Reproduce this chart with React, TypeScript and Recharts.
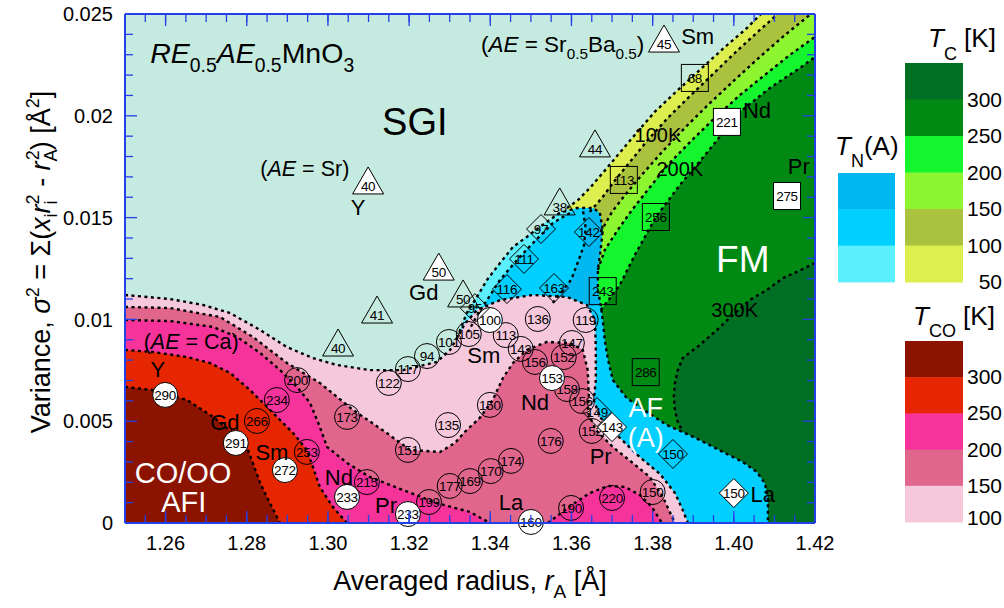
import React from "react";
import { ScatterChart, Scatter, XAxis, YAxis } from "recharts";

type XY = [number, number];
type Part = { t: string; i?: boolean; sub?: boolean };
type Lab = { x: number; y: number; parts: Part[]; size: number; color?: string; anchor?: "start" | "middle" | "end" };
type Mark = { x: number; y: number; v: string };

const FONT = '"Liberation Sans", Arial, Helvetica, sans-serif';
const AXIS_BLUE = "#2441e8";
const SGI = "#c5eadf";

// colour scales (top of bar first)
const tcColors = ["#006e23", "#008a14", "#14f52e", "#8ef531", "#abc23f", "#dcef4e"];
const tcLabels = ["300", "250", "200", "150", "100", "50"];
const tnColors = ["#00b8ef", "#00cfff", "#5cf0fc"];
const tcoColors = ["#8b1300", "#e62600", "#f5339a", "#e0668d", "#f5c8dc"];
const tcoLabels = ["300", "250", "200", "150", "100"];

// ticks
const xMajor = [1.26, 1.28, 1.3, 1.32, 1.34, 1.36, 1.38, 1.4, 1.42];
const xMinor = [1.255, 1.26, 1.265, 1.27, 1.275, 1.28, 1.285, 1.29, 1.295, 1.3, 1.305, 1.31, 1.315, 1.32, 1.325, 1.33, 1.335, 1.34, 1.345, 1.35, 1.355, 1.36, 1.365, 1.37, 1.375, 1.38, 1.385, 1.39, 1.395, 1.4, 1.405, 1.41, 1.415];
const yMajor = [0, 0.005, 0.01, 0.015, 0.02, 0.025];
const yMinor = [0.001, 0.002, 0.003, 0.004, 0.006, 0.007, 0.008, 0.009, 0.011, 0.012, 0.013, 0.014, 0.016, 0.017, 0.018, 0.019, 0.021, 0.022, 0.023, 0.024];

// contour lines (r_A, sigma^2)
const plotBox: XY[] = [[1.25, 0], [1.25, 0.025], [1.42, 0.025], [1.42, 0]];
const g1: XY[] = [[1.3589, 0.01547], [1.3616, 0.01586], [1.3645, 0.01645], [1.3677, 0.01719], [1.3714, 0.01807], [1.3756, 0.01906], [1.3805, 0.02019], [1.3857, 0.02117], [1.3916, 0.02225], [1.3978, 0.02338], [1.4027, 0.02421], [1.4067, 0.025]];
const g2: XY[] = [[1.3645, 0.01528], [1.3675, 0.01596], [1.3704, 0.01675], [1.3744, 0.01773], [1.3788, 0.01881], [1.3837, 0.01989], [1.3892, 0.02097], [1.3946, 0.022], [1.4002, 0.02308], [1.4059, 0.02412], [1.4108, 0.025]];
const g3: XY[] = [[1.3672, 0.01429], [1.37, 0.01528], [1.3732, 0.01611], [1.3773, 0.01709], [1.3823, 0.01822], [1.3879, 0.0194], [1.3936, 0.02053], [1.4002, 0.02176], [1.4064, 0.02289], [1.4126, 0.02397], [1.419, 0.025]];
const g4: XY[] = [[1.3665, 0.01243], [1.3682, 0.01341], [1.3714, 0.01439], [1.3749, 0.01537], [1.3788, 0.01636], [1.3837, 0.01758], [1.3892, 0.01871], [1.3953, 0.01989], [1.4015, 0.02102], [1.4076, 0.022], [1.4138, 0.02299], [1.42, 0.02387]];
const g5: XY[] = [[1.3672, 0.01046], [1.3695, 0.01105], [1.3719, 0.01169], [1.3756, 0.01316], [1.3808, 0.01503], [1.3867, 0.0166], [1.3929, 0.01807], [1.4015, 0.02019], [1.4089, 0.02137], [1.4163, 0.02235], [1.42, 0.02289]];
const g6: XY[] = [[1.42, 0.01277], [1.4155, 0.01233], [1.4121, 0.01203], [1.4081, 0.01144], [1.4039, 0.01095], [1.3998, 0.01022], [1.3958, 0.00948], [1.3916, 0.00874], [1.3874, 0.0081], [1.3862, 0.00751], [1.3855, 0.00688], [1.3852, 0.00619], [1.3855, 0.00555], [1.386, 0.00506], [1.3874, 0.00447]];

const blueLeft: XY[] = [[1.3318, 0.00909], [1.3342, 0.01031], [1.3367, 0.0111], [1.3392, 0.01194], [1.3424, 0.01277], [1.3456, 0.01356], [1.349, 0.01405], [1.3522, 0.01454], [1.3571, 0.01523], [1.3613, 0.01547], [1.3653, 0.01547], [1.367, 0.01523]];
const blueRight: XY[] = [[1.367, 0.01523], [1.3677, 0.01439], [1.3672, 0.01341], [1.3665, 0.01243], [1.3665, 0.01144], [1.3672, 0.01071], [1.3677, 0.00997], [1.3682, 0.00899], [1.369, 0.00801], [1.3702, 0.00702], [1.3736, 0.00614], [1.3786, 0.00545], [1.3835, 0.00481], [1.3874, 0.00447], [1.3916, 0.00408], [1.3973, 0.00349], [1.4022, 0.003], [1.4057, 0.0025], [1.4076, 0.00196], [1.4084, 0.00128], [1.4084, 0.00064], [1.4084, 0]];
const cyanInner: XY[] = [[1.3596, 0.01523], [1.3554, 0.01473], [1.3505, 0.01375], [1.3466, 0.01292], [1.3424, 0.01194], [1.3392, 0.01095], [1.3367, 0.01017], [1.3345, 0.00938]];
const darkBlueEdge: XY[] = [[1.3554, 0.01081], [1.3579, 0.01144], [1.3599, 0.01194], [1.3616, 0.01282], [1.3631, 0.01365], [1.3635, 0.01449], [1.3628, 0.01537]];

const lineA: XY[] = [[1.25, 0.0112], [1.2611, 0.011], [1.2692, 0.01071], [1.2759, 0.01031], [1.2833, 0.00948], [1.2899, 0.00864], [1.2963, 0.0081], [1.3022, 0.00776], [1.3103, 0.00751], [1.3185, 0.00751], [1.3268, 0.00791], [1.3301, 0.0085], [1.3318, 0.00909], [1.3337, 0.00977], [1.3367, 0.01046], [1.3424, 0.01095], [1.3505, 0.0112], [1.3589, 0.0111], [1.3638, 0.01071], [1.3658, 0.00997], [1.366, 0.0085], [1.366, 0.00702], [1.3655, 0.00604], [1.367, 0.00521], [1.3712, 0.00432], [1.3768, 0.00324], [1.3818, 0.00241], [1.3855, 0.00147], [1.3874, 0.00064], [1.3887, 0]];
const lineB: XY[] = [[1.25, 0.01061], [1.2611, 0.01056], [1.2734, 0.01012], [1.2815, 0.00914], [1.2899, 0.00786], [1.298, 0.00688], [1.3062, 0.00555], [1.3145, 0.00442], [1.3202, 0.00359], [1.3276, 0.00349], [1.3313, 0.00393], [1.3337, 0.00447], [1.3374, 0.00516], [1.3406, 0.00604], [1.3431, 0.00712], [1.3456, 0.00786], [1.349, 0.0085], [1.3539, 0.00889], [1.3596, 0.00884], [1.3628, 0.0085], [1.364, 0.00751], [1.3643, 0.00619], [1.364, 0.00545], [1.366, 0.00457], [1.3702, 0.00373], [1.3751, 0.00295], [1.3793, 0.00226], [1.3825, 0.00128], [1.3855, 0]];
const lineC: XY[] = [[1.25, 0.00997], [1.2611, 0.00992], [1.2717, 0.00963], [1.2776, 0.00914], [1.2833, 0.00835], [1.2882, 0.00751], [1.2924, 0.00668], [1.2956, 0.00589], [1.298, 0.00472], [1.2998, 0.00373], [1.3047, 0.00295], [1.3103, 0.00226], [1.3185, 0.00162], [1.3268, 0.00098], [1.335, 0.00054], [1.3399, 0]];
const bump: XY[] = [[1.3542, 0], [1.3571, 0.00044], [1.3608, 0.00098], [1.3645, 0.00147], [1.369, 0.00182], [1.3732, 0.00177], [1.3768, 0.00138], [1.3798, 0.00079], [1.3823, 0]];
const lineD: XY[] = [[1.25, 0.0085], [1.2569, 0.0084], [1.2653, 0.00815], [1.2709, 0.00786], [1.2759, 0.00737], [1.2808, 0.00653], [1.285, 0.0057], [1.2882, 0.00506], [1.2914, 0.00442], [1.2948, 0.00359], [1.2963, 0.00275], [1.298, 0.00177], [1.3012, 0.00079], [1.3047, 0]];
const lineE: XY[] = [[1.25, 0.00668], [1.2569, 0.00653], [1.2653, 0.00604], [1.2717, 0.00521], [1.2766, 0.00442], [1.28, 0.00373], [1.2815, 0.00295], [1.2833, 0.00196], [1.2857, 0.00098], [1.2882, 0]];

// samples
const circlesOpen: Mark[] = [
  { x: 1.2924, y: 0.00702, v: "200" }, { x: 1.2874, y: 0.00604, v: "234" }, { x: 1.2825, y: 0.00501, v: "266" },
  { x: 1.2948, y: 0.00349, v: "253" }, { x: 1.3047, y: 0.00521, v: "173" }, { x: 1.3096, y: 0.00201, v: "215" },
  { x: 1.3249, y: 0.00103, v: "199" }, { x: 1.33, y: 0.00182, v: "177" }, { x: 1.335, y: 0.00206, v: "169" },
  { x: 1.3401, y: 0.00255, v: "170" }, { x: 1.3451, y: 0.00305, v: "174" }, { x: 1.3549, y: 0.00403, v: "176" },
  { x: 1.3399, y: 0.0058, v: "150" }, { x: 1.3197, y: 0.00359, v: "151" }, { x: 1.3296, y: 0.00481, v: "135" },
  { x: 1.315, y: 0.00688, v: "122" }, { x: 1.3197, y: 0.00756, v: "117" }, { x: 1.3244, y: 0.0082, v: "94" },
  { x: 1.3298, y: 0.00889, v: "101" }, { x: 1.3347, y: 0.00928, v: "105" }, { x: 1.3438, y: 0.00923, v: "113" },
  { x: 1.3517, y: 0.01002, v: "136" }, { x: 1.3635, y: 0.00997, v: "119" }, { x: 1.3475, y: 0.00855, v: "143" },
  { x: 1.3601, y: 0.00884, v: "147" }, { x: 1.3581, y: 0.00815, v: "152" }, { x: 1.351, y: 0.00791, v: "156" },
  { x: 1.3589, y: 0.00658, v: "158" }, { x: 1.3626, y: 0.00599, v: "156" }, { x: 1.365, y: 0.00452, v: "152" },
  { x: 1.3599, y: 0.00074, v: "190" }, { x: 1.37, y: 0.00123, v: "220" }, { x: 1.38, y: 0.00152, v: "150" },
];
const circlesWhite: Mark[] = [
  { x: 1.2599, y: 0.00629, v: "290" }, { x: 1.2773, y: 0.00393, v: "291" }, { x: 1.2894, y: 0.0026, v: "272" },
  { x: 1.3047, y: 0.00128, v: "233" }, { x: 1.3197, y: 0.00044, v: "233" }, { x: 1.3399, y: 0.00997, v: "100" },
  { x: 1.3552, y: 0.00712, v: "153" }, { x: 1.35, y: 0.00005, v: "160" },
];
const trianglesWhite: Mark[] = [
  { x: 1.3099, y: 0.0168, v: "40" }, { x: 1.3828, y: 0.02377, v: "45" }, { x: 1.3273, y: 0.01257, v: "50" },
];
const trianglesOpen: Mark[] = [
  { x: 1.3658, y: 0.01862, v: "44" }, { x: 1.3571, y: 0.01577, v: "38" }, { x: 1.3333, y: 0.01125, v: "50" },
  { x: 1.3121, y: 0.01046, v: "41" }, { x: 1.3025, y: 0.00884, v: "40" },
];
const squaresWhite: Mark[] = [{ x: 1.3983, y: 0.0197, v: "221" }, { x: 1.4131, y: 0.01606, v: "275" }];
const squaresOpen: Mark[] = [
  { x: 1.3904, y: 0.02186, v: "68" }, { x: 1.3729, y: 0.01685, v: "113" }, { x: 1.3808, y: 0.01503, v: "256" },
  { x: 1.3677, y: 0.01139, v: "243" }, { x: 1.3783, y: 0.00741, v: "286" },
];
const diamondsOpen: Mark[] = [
  { x: 1.3525, y: 0.01444, v: "97" }, { x: 1.3643, y: 0.01429, v: "142" }, { x: 1.3483, y: 0.01297, v: "111" },
  { x: 1.3441, y: 0.01149, v: "116" }, { x: 1.3557, y: 0.01154, v: "163" }, { x: 1.3362, y: 0.01055, v: "95" },
  { x: 1.3663, y: 0.00545, v: "149" }, { x: 1.385, y: 0.00339, v: "150" },
];
const diamondsWhite: Mark[] = [{ x: 1.37, y: 0.00471, v: "143" }, { x: 1.4, y: 0.00147, v: "150" }];

const t = (x: number, y: number, s: string, size = 22, color?: string): Lab => ({ x, y, parts: [{ t: s }], size, color });
const labels: Lab[] = [
  { x: 1.2562, y: 0.02259, size: 28.5, anchor: "start", parts: [{ t: "RE", i: true }, { t: "0.5", sub: true }, { t: "AE", i: true }, { t: "0.5", sub: true }, { t: "MnO" }, { t: "3", sub: true }] },
  t(1.3214, 0.01906, "SGI", 38),
  { x: 1.2943, y: 0.01704, size: 21.5, parts: [{ t: "(" }, { t: "AE", i: true }, { t: " = Sr)" }] },
  t(1.3074, 0.01513, "Y"),
  { x: 1.3377, y: 0.02313, size: 22.5, anchor: "start", parts: [{ t: "(" }, { t: "AE", i: true }, { t: " = Sr" }, { t: "0.5", sub: true }, { t: "Ba" }, { t: "0.5", sub: true }, { t: ")" }] },
  t(1.3911, 0.02353, "Sm"),
  t(1.3813, 0.01871, "100K", 20),
  t(1.3867, 0.01704, "200K", 20),
  t(1.4057, 0.01989, "Nd"),
  t(1.416, 0.01714, "Pr"),
  t(1.4022, 0.01233, "FM", 37, "#fff"),
  t(1.4002, 0.01012, "300K", 20),
  t(1.3236, 0.01095, "Gd"),
  { x: 1.2663, y: 0.00855, size: 21.5, parts: [{ t: "(" }, { t: "AE", i: true }, { t: " = Ca)" }] },
  t(1.2581, 0.00717, "Y"),
  t(1.2746, 0.00457, "Gd"),
  t(1.2862, 0.00309, "Sm"),
  t(1.2643, 0.00196, "CO/OO", 29, "#fff"),
  t(1.2645, 0.00054, "AFI", 29, "#fff"),
  t(1.3027, 0.00187, "Nd"),
  t(1.3143, 0.00049, "Pr"),
  t(1.3384, 0.00786, "Sm"),
  t(1.351, 0.00555, "Nd"),
  t(1.3672, 0.0029, "Pr"),
  t(1.3451, 0.00064, "La"),
  t(1.4071, 0.00103, "La"),
  t(1.3783, 0.00521, "AF", 27, "#fff"),
  t(1.3783, 0.00373, "(A)", 27, "#fff"),
];

const greenTail: XY[] = [[1.42, 0], [1.37, 0], [1.36, 0.008], [1.362, 0.0125]];
const fills: { pts: XY[]; color: string }[] = [
  { pts: plotBox, color: SGI },
  { pts: [...g1, [1.42, 0.025], ...greenTail], color: tcColors[5] },
  { pts: [...g2, [1.42, 0.025], ...greenTail], color: tcColors[4] },
  { pts: [...g3, [1.42, 0.025], ...greenTail], color: tcColors[3] },
  { pts: [...g4, ...greenTail], color: tcColors[2] },
  { pts: [...g5, ...greenTail], color: tcColors[1] },
  { pts: [...g6, [1.395, 0], [1.42, 0]], color: tcColors[0] },
  { pts: [...blueLeft, ...blueRight.slice(1), [1.386, 0], [1.36, 0.005], [1.345, 0.008]], color: tnColors[1] },
  { pts: [...blueLeft.slice(0, 10), ...cyanInner], color: tnColors[2] },
  { pts: [...darkBlueEdge, ...blueRight.slice(0, 6), [1.363, 0.0106]], color: tnColors[0] },
  { pts: [...lineA, [1.25, 0]], color: tcoColors[4] },
  { pts: [...lineB, [1.25, 0]], color: tcoColors[3] },
  { pts: [...lineC, [1.25, 0]], color: tcoColors[2] },
  { pts: bump, color: tcoColors[2] },
  { pts: [...lineD, [1.25, 0]], color: tcoColors[1] },
  { pts: [...lineE, [1.25, 0]], color: tcoColors[0] },
];
const dashed: XY[][] = [g1, g2, g3, g4, g5, g6, blueLeft, blueRight, cyanInner, darkBlueEdge, lineA, lineB, lineC, bump, lineD, lineE];

const toPts = (a: XY[]) => a.map(([x, y]) => ({ x, y }));
const NoDot = () => <g />;
const NoTick = () => <g />;

const markerShape = (kind: string, fill: string) => (p: any) => {
  const { cx, cy } = p;
  const v = p.payload?.v;
  const common = { fill, stroke: "#000", strokeWidth: 1 };
  let el: React.ReactNode = null;
  let ty = cy + 5;
  if (kind === "circle") el = <circle cx={cx} cy={cy} r={12.5} {...common} />;
  if (kind === "square") el = <rect x={cx - 13.5} y={cy - 13.5} width={27} height={27} {...common} />;
  if (kind === "diamond")
    el = <polygon points={`${cx},${cy - 14.5} ${cx + 14.5},${cy} ${cx},${cy + 14.5} ${cx - 14.5},${cy}`} {...common} />;
  if (kind === "triangle") {
    el = <polygon points={`${cx},${cy - 14} ${cx + 15.5},${cy + 13} ${cx - 15.5},${cy + 13}`} {...common} />;
    ty = cy + 10;
  }
  return (
    <g>
      {el}
      <text x={cx} y={ty} textAnchor="middle" fontSize={13.5} fontFamily={FONT} fill="#000" letterSpacing={-0.3}>
        {v}
      </text>
    </g>
  );
};

const LabelShape = (p: any) => {
  const d = p.payload as Lab;
  let shift = 0;
  return (
    <text x={p.cx} y={p.cy} textAnchor={d.anchor ?? "middle"} fontSize={d.size} fill={d.color ?? "#000"} fontFamily={FONT}>
      {d.parts.map((q, i) => {
        const target = q.sub ? d.size * 0.3 : 0;
        const dy = target - shift;
        shift = target;
        return (
          <tspan key={i} dy={dy || undefined} fontSize={q.sub ? d.size * 0.68 : undefined} fontStyle={q.i ? "italic" : undefined}>
            {q.t}
          </tspan>
        );
      })}
    </text>
  );
};

const tickStyle = { fill: "#000", fontSize: 20, fontFamily: FONT };
const tl = { stroke: AXIS_BLUE, strokeWidth: 1.3 };
const frame = { stroke: AXIS_BLUE, strokeWidth: 2 };

const Overlay = () => (
  <svg width={1004} height={608} style={{ position: "absolute", left: 0, top: 0, pointerEvents: "none" }} fontFamily={FONT}>
    {/* T_C bar */}
    {tcColors.map((c, i) => (
      <rect key={"c" + i} x={905} y={63 + i * 36.5} width={58} height={37} fill={c} />
    ))}
    {tcLabels.map((s, i) => (
      <text key={"cl" + i} x={1002} y={63 + (i + 1) * 36.5 + 7} textAnchor="end" fontSize={21}>
        {s}
      </text>
    ))}
    <text x={928} y={47} fontSize={26}>
      <tspan fontStyle="italic">T</tspan>
      <tspan dy={13} fontSize={18}>C</tspan>
      <tspan dy={-13}> [K]</tspan>
    </text>
    {/* T_N bar */}
    {tnColors.map((c, i) => (
      <rect key={"n" + i} x={838} y={173 + i * 36.3} width={57} height={36.8} fill={c} />
    ))}
    <text x={835} y={155} fontSize={26}>
      <tspan fontStyle="italic">T</tspan>
      <tspan dy={12} fontSize={18}>N</tspan>
      <tspan dy={-12}>(A)</tspan>
    </text>
    {/* T_CO bar */}
    {tcoColors.map((c, i) => (
      <rect key={"o" + i} x={905} y={341 + i * 36.2} width={58} height={36.7} fill={c} />
    ))}
    {tcoLabels.map((s, i) => (
      <text key={"ol" + i} x={1002} y={i === 4 ? 525 : 341 + (i + 1) * 36.2 + 7} textAnchor="end" fontSize={21}>
        {s}
      </text>
    ))}
    <text x={913} y={325} fontSize={26}>
      <tspan fontStyle="italic">T</tspan>
      <tspan dy={12} fontSize={18}>CO</tspan>
      <tspan dy={-12}> [K]</tspan>
    </text>
    {/* axis titles */}
    <text x={470} y={590} textAnchor="middle" fontSize={27}>
      Averaged radius, <tspan fontStyle="italic">r</tspan>
      <tspan dy={8} fontSize={19}>A</tspan>
      <tspan dy={-8}> [Å]</tspan>
    </text>
    <text transform="translate(50,262) rotate(-90)" textAnchor="middle" fontSize={27}>
      Variance, <tspan fontStyle="italic">σ</tspan>
      <tspan dy={-11} fontSize={18}>2</tspan>
      <tspan dy={11}> = Σ(</tspan>
      <tspan fontStyle="italic">x</tspan>
      <tspan dy={7} fontSize={18}>i</tspan>
      <tspan dy={-7} fontStyle="italic">r</tspan>
      <tspan dy={7} fontSize={18}>i</tspan>
      <tspan dx={-4} dy={-18} fontSize={18}>2</tspan>
      <tspan dy={11}> - </tspan>
      <tspan fontStyle="italic">r</tspan>
      <tspan dy={7} fontSize={18}>A</tspan>
      <tspan dx={-11} dy={-18} fontSize={18}>2</tspan>
      <tspan dy={11}>) [Å</tspan>
      <tspan dy={-11} fontSize={18}>2</tspan>
      <tspan dy={11}>]</tspan>
    </text>
  </svg>
);

const xTickAxis = { type: "number" as const, dataKey: "x", domain: [1.25, 1.42], allowDataOverflow: true, interval: 0 as const, mirror: true, height: 1, tick: NoTick, tickLine: tl, zIndex: 700 };
const yTickAxis = { type: "number" as const, dataKey: "y", domain: [0, 0.025], allowDataOverflow: true, interval: 0 as const, mirror: true, width: 1, tick: NoTick, tickLine: tl, zIndex: 700 };

export default function App() {
  return (
    <div style={{ position: "absolute", left: 0, top: 0, width: 1004, height: 608, background: "#fff" }}>
      <ScatterChart width={1004} height={608} margin={{ top: 14, right: 189, bottom: 45, left: 55 }}>
        {fills.map((f, i) => (
          <Scatter key={"f" + i} data={toPts(f.pts)} shape={NoDot} line={{ fill: f.color, stroke: "none" }} isAnimationActive={false} legendType="none" />
        ))}
        {dashed.map((d, i) => (
          <Scatter key={"d" + i} data={toPts(d)} shape={NoDot} isAnimationActive={false} legendType="none"
            line={{ fill: "none", stroke: "#000", strokeWidth: 2.4, strokeDasharray: "3 3.5" }} />
        ))}
        <Scatter data={circlesOpen} shape={markerShape("circle", "none")} isAnimationActive={false} />
        <Scatter data={circlesWhite} shape={markerShape("circle", "#fff")} isAnimationActive={false} />
        <Scatter data={trianglesOpen} shape={markerShape("triangle", "none")} isAnimationActive={false} />
        <Scatter data={trianglesWhite} shape={markerShape("triangle", "#fff")} isAnimationActive={false} />
        <Scatter data={squaresOpen} shape={markerShape("square", "none")} isAnimationActive={false} />
        <Scatter data={squaresWhite} shape={markerShape("square", "#fff")} isAnimationActive={false} />
        <Scatter data={diamondsOpen} shape={markerShape("diamond", "none")} isAnimationActive={false} />
        <Scatter data={diamondsWhite} shape={markerShape("diamond", "#fff")} isAnimationActive={false} />
        <Scatter data={labels} shape={LabelShape} isAnimationActive={false} />

        <XAxis type="number" dataKey="x" domain={[1.25, 1.42]} ticks={xMajor} interval={0} height={40}
          tickFormatter={(v: number) => v.toFixed(2)} tick={tickStyle} tickLine={false} tickMargin={7}
          axisLine={frame} zIndex={700} />
        <YAxis type="number" dataKey="y" domain={[0, 0.025]} ticks={yMajor} interval={0} width={70}
          tickFormatter={(v: number) => (v === 0 ? "0" : String(v))} tick={tickStyle} tickLine={false} tickMargin={6}
          axisLine={frame} zIndex={700} />
        <XAxis xAxisId="bMaj" {...xTickAxis} ticks={xMajor} orientation="bottom" tickSize={12} axisLine={false} />
        <XAxis xAxisId="bMin" {...xTickAxis} ticks={xMinor} orientation="bottom" tickSize={7} axisLine={false} />
        <XAxis xAxisId="tMaj" {...xTickAxis} ticks={xMajor} orientation="top" tickSize={12} axisLine={frame} />
        <XAxis xAxisId="tMin" {...xTickAxis} ticks={xMinor} orientation="top" tickSize={7} axisLine={false} />
        <YAxis yAxisId="lMaj" {...yTickAxis} ticks={yMajor} orientation="left" tickSize={12} axisLine={false} />
        <YAxis yAxisId="lMin" {...yTickAxis} ticks={yMinor} orientation="left" tickSize={7} axisLine={false} />
        <YAxis yAxisId="rMaj" {...yTickAxis} ticks={yMajor} orientation="right" tickSize={12} axisLine={frame} />
        <YAxis yAxisId="rMin" {...yTickAxis} ticks={yMinor} orientation="right" tickSize={7} axisLine={false} />
      </ScatterChart>
      <Overlay />
    </div>
  );
}
